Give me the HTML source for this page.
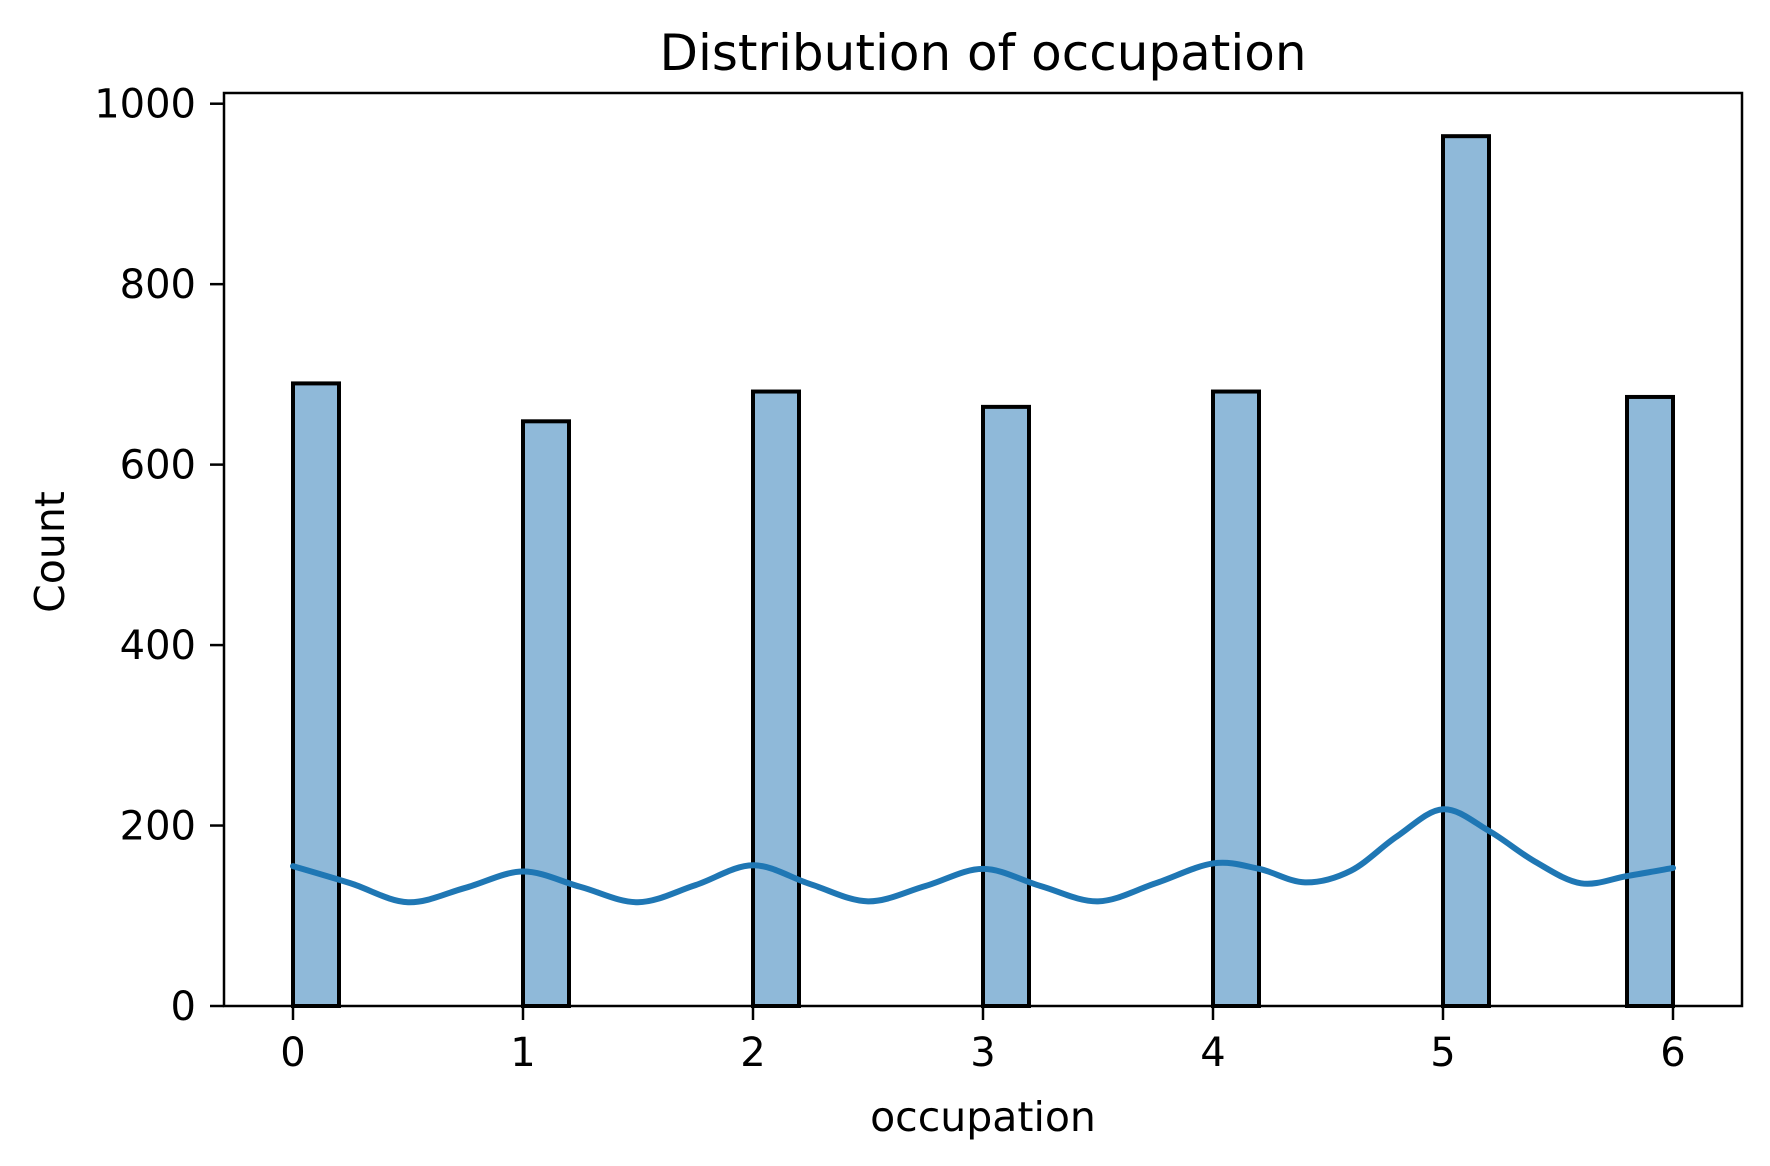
<!DOCTYPE html>
<html><head><meta charset="utf-8"><style>
html,body{margin:0;padding:0;background:#fff}
svg{display:block;font-family:"DejaVu Sans","Liberation Sans",sans-serif}
</style></head><body>
<svg id="chart" width="1770" height="1166" viewBox="0 0 1770 1166">
<text x="983" y="70" font-size="50" text-anchor="middle">Distribution of occupation</text>
<g id="bars"></g>
<g id="kde"></g>
<g id="axes"></g>
<text x="983" y="1131" font-size="41" text-anchor="middle">occupation</text>
<text transform="translate(64,552) rotate(-90)" font-size="41" text-anchor="middle">Count</text>
</svg>
<script>
const binStarts = [0, 1, 2, 3, 4, 5, 5.8];
const counts = [690, 648, 681, 664, 681, 964, 675];
const binWidth = 0.2;
const xTicks = [0, 1, 2, 3, 4, 5, 6];
const yTicks = [0, 200, 400, 600, 800, 1000];
const kdeX = [0,0.25,0.5,0.75,1,1.25,1.5,1.75,2,2.25,2.5,2.75,3,3.25,3.5,3.75,4,4.2,4.4,4.6,4.8,5,5.2,5.4,5.6,5.8,6];
const kdeY = [155,136,115,131,149,132,115,134,156,135,116,133,152,133,116,136,158,152,137,150,188,218,194,160,136,144,153];

const NS = "http://www.w3.org/2000/svg";
const L = 224, R = 1742, T = 93, B = 1006;
function sx(v){ return 293 + v * 230; }
function sy(v){ return B - v * 0.9023; }
function mk(tag, attrs, parent){ const e = document.createElementNS(NS, tag); for (const k in attrs) e.setAttribute(k, attrs[k]); parent.appendChild(e); return e; }

const bars = document.getElementById('bars');
for (let i = 0; i < counts.length; i++) {
  const x0 = sx(binStarts[i]), x1 = sx(binStarts[i] + binWidth);
  const r = mk('rect', {x: x0, y: sy(counts[i]), width: x1 - x0, height: B - sy(counts[i]), fill: '#8fb9d9', stroke: '#000', 'stroke-width': 4}, bars);
  
  
}

const kde = document.getElementById('kde');
const pts = kdeX.map((x, i) => [sx(x), sy(kdeY[i])]);
let d = 'M' + pts[0][0] + ',' + pts[0][1];
for (let i = 0; i < pts.length - 1; i++) {
  const p0 = pts[Math.max(0, i - 1)], p1 = pts[i], p2 = pts[i + 1], p3 = pts[Math.min(pts.length - 1, i + 2)];
  const c1 = [p1[0] + (p2[0] - p0[0]) / 6, p1[1] + (p2[1] - p0[1]) / 6];
  const c2 = [p2[0] - (p3[0] - p1[0]) / 6, p2[1] - (p3[1] - p1[1]) / 6];
  d += ' C' + c1 + ' ' + c2 + ' ' + p2;
}
const path = mk('path', {d: d, fill: 'none', stroke: '#1f77b4', 'stroke-width': 6, 'stroke-linecap': 'round', 'stroke-linejoin': 'round'}, kde);



const axes = document.getElementById('axes');
const frame = mk('rect', {x: L, y: T, width: R - L, height: B - T, fill: 'none', stroke: '#000', 'stroke-width': 2.5}, axes);


xTicks.forEach(v => {
  const x = sx(v);
  mk('line', {x1: x, x2: x, y1: B, y2: B + 14, stroke: '#000', 'stroke-width': 2.5}, axes);
  const t = mk('text', {x: x, y: 1066, 'font-size': 40, 'text-anchor': 'middle'}, axes);
  t.textContent = v;
  
  
});
yTicks.forEach(v => {
  const y = sy(v);
  mk('line', {x1: L - 14, x2: L, y1: y, y2: y, stroke: '#000', 'stroke-width': 2.5}, axes);
  const t = mk('text', {x: L - 28, y: y + 14, 'font-size': 40, 'text-anchor': 'end'}, axes);
  t.textContent = v;
  
  
});
</script>
</body></html>
